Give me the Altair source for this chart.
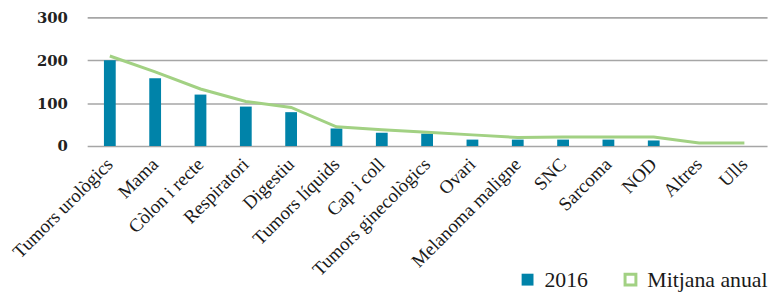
import altair as alt
import pandas as pd

categories = ["Tumors urològics", "Mama", "Còlon i recte", "Respiratori", "Digestiu",
              "Tumors líquids", "Cap i coll", "Tumors ginecològics", "Ovari",
              "Melanoma maligne", "SNC", "Sarcoma", "NOD", "Altres", "Ulls"]
values_2016 = [200, 158, 120, 92, 79, 41, 31, 29, 15, 15, 15, 15, 13, 0, 0]
mitjana_anual = [210, 173, 133, 104, 90, 45, 38, 32, 26, 20, 21, 21, 21, 7, 7]
y_ticks = [0, 100, 200, 300]

BLUE = "#0083a9"
GREEN = "#a2d183"
SERIF = "Liberation Serif"

df = pd.DataFrame({
    "cat": categories,
    "v2016": values_2016,
    "mitjana": mitjana_anual,
    "s1": ["2016"] * len(categories),
    "s2": ["Mitjana anual"] * len(categories),
})

xenc = alt.X("cat:N", sort=categories, title=None,
             scale=alt.Scale(paddingInner=0.74, paddingOuter=0.37),
             axis=alt.Axis(labelAngle=-45, labelAlign="right", labelBaseline="middle",
                           labelFont=SERIF, labelFontSize=19, labelColor="#1a1a1a",
                           labelPadding=15, ticks=False, domain=False, grid=False,
                           labelOverlap=False, labelLimit=300))
yscale = alt.Scale(domain=[0, 300])

leg_common = dict(title=None, orient="none", legendY=254, symbolType="square",
                  labelFont=SERIF, labelFontSize=22, labelColor="#1a1a1a",
                  labelOffset=6, padding=0, labelLimit=300)

bars = alt.Chart(df).mark_bar().encode(
    x=xenc,
    y=alt.Y("v2016:Q", scale=yscale, title=None,
            axis=alt.Axis(values=y_ticks, ticks=False, domain=False, grid=True,
                          gridColor="#a6a6a6", gridWidth=1.6,
                          labelFont="DejaVu Serif", labelFontWeight="bold",
                          labelFontSize=15, labelColor="#222222", labelPadding=20)),
    color=alt.Color("s1:N", scale=alt.Scale(domain=["2016"], range=[BLUE]),
                    legend=alt.Legend(legendX=434, symbolSize=144, **leg_common)),
)

line = alt.Chart(df).mark_line(strokeWidth=3).encode(
    x=alt.X("cat:N", sort=categories),
    y=alt.Y("mitjana:Q", scale=yscale),
    stroke=alt.Stroke("s2:N", scale=alt.Scale(domain=["Mitjana anual"], range=[GREEN]),
                      legend=alt.Legend(legendX=538, symbolSize=120, symbolStrokeWidth=3,
                                        symbolFillColor="white", **leg_common)),
)

chart = alt.layer(bars, line).resolve_scale(color="independent").properties(
    width=687, height=130,
    autosize=alt.AutoSizeParams(type="none"),
    padding={"left": 80, "top": 8, "right": 5, "bottom": 146},
    background="white",
).configure_view(stroke=None)

chart.save("out.html", embed_options={"renderer": "svg", "actions": False})
